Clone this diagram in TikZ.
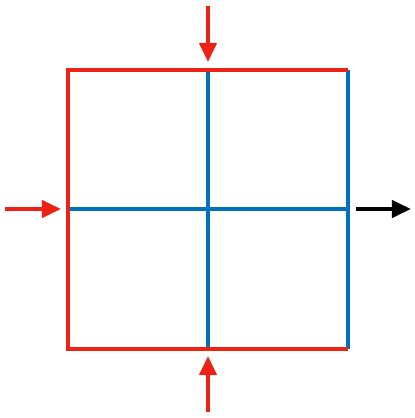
\documentclass[tikz,border=0pt]{standalone}
\usetikzlibrary{arrows.meta}
\definecolor{gridred}{RGB}{236,34,20}
\definecolor{gridblue}{RGB}{0,114,188}
\begin{document}
\begin{tikzpicture}[x=0.01cm,y=-0.01cm]
	\tikzstyle{edge} = [line width=0.04cm]
	\tikzstyle{inner} = [edge,draw=gridblue]
	\tikzstyle{outer} = [edge,draw=gridred]
	\tikzstyle{feed} = [edge,-{Triangle[length=0.19cm,width=0.17cm]}]
	\useasboundingbox (0,0) rectangle (415,418);
	\coordinate (nw) at (68,70);
	\coordinate (ne) at (348,70);
	\coordinate (sw) at (68,349);
	\coordinate (se) at (348,349);
	\coordinate (n) at (208,70);
	\coordinate (s) at (208,349);
	\coordinate (w) at (68,209);
	\coordinate (e) at (348,209);
	\coordinate (topin) at (208,6);
	\coordinate (toptip) at (208,62);
	\coordinate (botin) at (208,412);
	\coordinate (bottip) at (208,356);
	\coordinate (leftin) at (5,209);
	\coordinate (lefttip) at (61,209);
	\coordinate (rightout) at (356,209);
	\coordinate (righttip) at (411,209);
	
	\draw[inner] (n) -- (s);
	\draw[inner] (w) -- (e);
	\draw[inner] (ne) -- (se);
	\draw[outer] (ne) -- (nw) -- (sw) -- (se);
	
	\draw[feed,gridred] (topin) -- (toptip);
	\draw[feed,gridred] (botin) -- (bottip);
	\draw[feed,gridred] (leftin) -- (lefttip);
	\draw[feed,black] (rightout) -- (righttip);
\end{tikzpicture}
\end{document}
